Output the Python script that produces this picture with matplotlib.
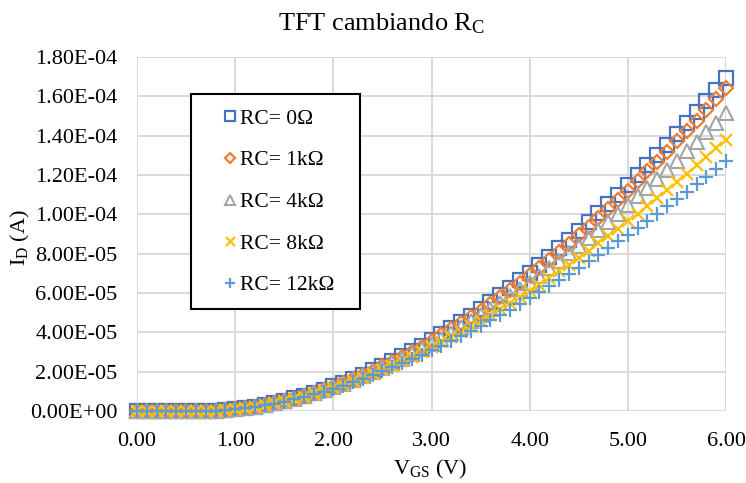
import matplotlib
matplotlib.use("Agg")
import matplotlib.pyplot as plt
from matplotlib.patches import Rectangle
from matplotlib.ticker import FuncFormatter, MultipleLocator

plt.rcParams['font.family'] = ['Liberation Serif', 'DejaVu Serif']
plt.rcParams['mathtext.fontset'] = 'custom'
plt.rcParams['mathtext.rm'] = 'Liberation Serif'
plt.rcParams['mathtext.it'] = 'Liberation Serif:italic'
plt.rcParams['mathtext.bf'] = 'Liberation Serif:bold'

# ---- data ----
vgs = [0.0, 0.1, 0.2, 0.3, 0.4, 0.5, 0.6, 0.7, 0.8, 0.9,
       1.0, 1.1, 1.2, 1.3, 1.4, 1.5, 1.6, 1.7, 1.8, 1.9,
       2.0, 2.1, 2.2, 2.3, 2.4, 2.5, 2.6, 2.7, 2.8, 2.9,
       3.0, 3.1, 3.2, 3.3, 3.4, 3.5, 3.6, 3.7, 3.8, 3.9,
       4.0, 4.1, 4.2, 4.3, 4.4, 4.5, 4.6, 4.7, 4.8, 4.9,
       5.0, 5.1, 5.2, 5.3, 5.4, 5.5, 5.6, 5.7, 5.8, 5.9, 6.0]

# drain currents in microamperes
id_rc0_uA = [0.001, 0.001, 0.002, 0.004, 0.008, 0.015, 0.03, 0.07, 0.20, 0.43,
             0.833, 1.419, 2.144, 3.005, 3.996, 5.116, 6.361, 7.73, 9.22, 10.83,
             12.56, 14.40, 16.37, 18.44, 20.63, 22.93, 25.34, 27.87, 30.50, 33.24,
             36.09, 39.05, 42.11, 45.28, 48.55, 51.93, 55.41, 59.00, 62.69, 66.48,
             70.38, 74.37, 78.47, 82.67, 86.96, 91.36, 95.86, 100.46, 105.16, 109.95,
             114.84, 119.83, 124.92, 130.10, 135.38, 140.76, 146.24, 151.80, 157.47, 163.23, 169.09]
id_rc1k_uA = [0.001, 0.001, 0.002, 0.004, 0.008, 0.015, 0.03, 0.07, 0.20, 0.43,
              0.831, 1.414, 2.136, 2.991, 3.975, 5.086, 6.320, 7.675, 9.149, 10.741,
              12.449, 14.264, 16.207, 18.246, 20.402, 22.664, 25.032, 27.517, 30.097, 32.783,
              35.576, 38.473, 41.467, 44.565, 47.759, 51.058, 54.452, 57.951, 61.545, 65.233,
              69.025, 72.903, 76.884, 80.960, 85.120, 89.384, 93.742, 98.193, 102.74, 107.37,
              112.09, 116.91, 121.81, 126.81, 131.89, 137.07, 142.34, 147.68, 153.13, 158.66, 164.28]
id_rc4k_uA = [0.001, 0.001, 0.002, 0.004, 0.008, 0.015, 0.03, 0.07, 0.20, 0.42,
              0.825, 1.401, 2.111, 2.951, 3.914, 4.999, 6.200, 7.517, 8.945, 10.483,
              12.130, 13.877, 15.740, 17.693, 19.752, 21.909, 24.161, 26.519, 28.962, 31.501,
              34.135, 36.861, 39.672, 42.575, 45.563, 48.643, 51.805, 55.058, 58.392, 61.807,
              65.315, 68.893, 72.560, 76.306, 80.122, 84.027, 88.012, 92.075, 96.216, 100.42,
              104.71, 109.07, 113.51, 118.02, 122.61, 127.27, 132.00, 136.79, 141.67, 146.61, 151.63]
id_rc8k_uA = [0.001, 0.001, 0.002, 0.004, 0.008, 0.015, 0.03, 0.07, 0.19, 0.41,
              0.816, 1.383, 2.079, 2.899, 3.836, 4.887, 6.048, 7.317, 8.688, 10.161,
              11.734, 13.397, 15.167, 17.016, 18.960, 20.991, 23.107, 25.317, 27.601, 29.968,
              32.417, 34.949, 37.550, 40.233, 42.987, 45.818, 48.719, 51.699, 54.747, 57.860,
              61.052, 64.301, 67.622, 71.011, 74.458, 77.975, 81.557, 85.203, 88.915, 92.677,
              96.500, 100.39, 104.34, 108.34, 112.40, 116.53, 120.71, 124.94, 129.22, 133.57, 137.97]
id_rc12k_uA = [0.001, 0.001, 0.002, 0.004, 0.008, 0.015, 0.03, 0.07, 0.19, 0.40,
               0.808, 1.366, 2.048, 2.849, 3.761, 4.782, 5.905, 7.130, 8.449, 9.863,
               11.369, 12.955, 14.642, 16.397, 18.241, 20.161, 22.158, 24.238, 26.385, 28.603,
               30.895, 33.258, 35.684, 38.179, 40.734, 43.360, 46.042, 48.794, 51.603, 54.468,
               57.401, 60.380, 63.422, 66.521, 69.664, 72.872, 76.133, 79.444, 82.812, 86.222,
               89.680, 93.194, 96.758, 100.36, 104.02, 107.72, 111.48, 115.26, 119.11, 122.99, 126.91]

series_labels = ['RC= 0Ω', 'RC= 1kΩ', 'RC= 4kΩ', 'RC= 8kΩ', 'RC= 12kΩ']
series_data = [id_rc0_uA, id_rc1k_uA, id_rc4k_uA, id_rc8k_uA, id_rc12k_uA]

# ---- style ----
styles = [
    dict(marker='s', ms=9.5, mfc='none', mec='#4472C4', mew=1.6),
    dict(marker='D', ms=6.8, mfc='none', mec='#ED7D31', mew=1.6),
    dict(marker='^', ms=10.5, mfc='none', mec='#A5A5A5', mew=1.5),
    dict(marker='x', ms=9.0, mfc='none', mec='#FFC000', mew=1.6),
    dict(marker='+', ms=10.0, mfc='none', mec='#5B9BD5', mew=1.6),
]

W, H = 746, 483
fig = plt.figure(figsize=(W / 100, H / 100), dpi=100)
ax = fig.add_axes([137 / W, 1 - 411 / H, (726 - 137) / W, (411 - 57) / H])

for data, lab, st in zip(series_data, series_labels, styles):
    ax.plot(vgs, [v * 1e-6 for v in data], linestyle='none', label=lab,
            clip_on=False, zorder=3, **st)

ax.set_xlim(0, 6)
ax.set_ylim(0, 1.8e-4)
ax.xaxis.set_major_locator(MultipleLocator(1.0))
ax.yaxis.set_major_locator(MultipleLocator(2e-5))
ax.xaxis.set_major_formatter(FuncFormatter(lambda v, p: f"{v:.2f}"))
ax.yaxis.set_major_formatter(FuncFormatter(lambda v, p: f"{v:.2E}"))
ax.tick_params(axis='both', length=0, labelsize=16, colors='black')
ax.tick_params(axis='y', pad=14)
ax.tick_params(axis='x', pad=15)
ax.grid(True, color='#D9D9D9', linewidth=1.4, zorder=0)
ax.set_axisbelow(True)
for s in ax.spines.values():
    s.set_visible(False)

fig.text(381 / W, 1 - 24 / H, r'TFT cambiando $\mathregular{R_C}$', fontsize=19,
         ha='center', va='center')
fig.text(430 / W, 1 - 469 / H, r'$\mathregular{V_{GS}}$ (V)', fontsize=16,
         ha='center', va='center')
fig.text(20 / W, 1 - 238 / H, r'$\mathregular{I_D}$ (A)', fontsize=16,
         ha='center', va='center', rotation=90)

# legend frame (drawn in the axes so it sits above the markers but below the legend)
ax.add_patch(Rectangle((191 / W, 1 - 309 / H), 169 / W, 215 / H,
                       transform=fig.transFigure, fill=True, facecolor='white',
                       edgecolor='black', linewidth=1.5, zorder=4, clip_on=False))
leg = ax.legend(loc='center left', bbox_to_anchor=(222 / W, 1 - 202 / H),
                bbox_transform=fig.transFigure, frameon=False, fontsize=15.5,
                markerscale=0.72, handlelength=0.7, handletextpad=0.12,
                labelspacing=1.0, borderpad=0, borderaxespad=0)
leg.set_zorder(5)

fig.savefig('out.png', dpi=100)
